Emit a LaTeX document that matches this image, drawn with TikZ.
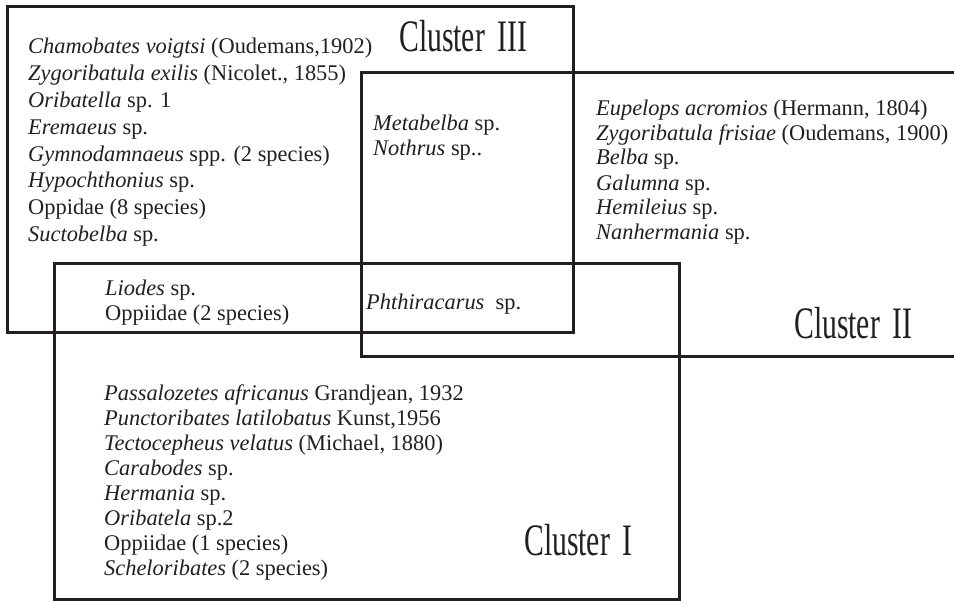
\documentclass[tikz,border=0pt]{standalone}
\usepackage{fontspec}
\setmainfont{Liberation Serif}
\newfontfamily\condensedfont[FakeStretch=0.66]{Liberation Serif}
\definecolor{ink}{HTML}{231F20}
\newcommand{\clustergap}{\hspace{13pt}}
\begin{document}
\begin{tikzpicture}[x=1pt,y=-1pt,
  box/.style={draw=ink,line width=3pt},
  species/.style={anchor=base west,inner sep=0pt,text=ink,font=\fontsize{22.4}{25}\selectfont},
  specieswide/.style={species,font=\fontsize{22.4}{26.8}\selectfont},
  clusterlabel/.style={anchor=base west,inner sep=0pt,text=ink,font=\condensedfont\fontsize{45}{45}\selectfont}]
\useasboundingbox[fill=white] (0,0) rectangle (954,602);
% boxes
\draw[box] (7,7) rectangle (573,332);
\draw[box] (956,73) -- (361,73) -- (361,356) -- (956,356);
\draw[box] (54,263) rectangle (679,599);
% Cluster III
\node[specieswide] (c3list) at (28,54) {\begin{tabular}[t]{@{}l@{}}
\textit{Chamobates voigtsi} (Oudemans,1902)\\
\textit{Zygoribatula exilis} (Nicolet., 1855)\\
\textit{Oribatella} sp. 1\\
\textit{Eremaeus} sp.\\
\textit{Gymnodamnaeus} spp. (2 species)\\
\textit{Hypochthonius} sp.\\
Oppidae (8 species)\\
\textit{Suctobelba} sp.
\end{tabular}};
\node[clusterlabel] (c3) at (399,52) {Cluster\clustergap III};
% III and II
\node[species] (c23) at (373,130) {\begin{tabular}[t]{@{}l@{}}
\textit{Metabelba} sp.\\
\textit{Nothrus} sp..
\end{tabular}};
% Cluster II
\node[species] (c2list) at (596,115) {\begin{tabular}[t]{@{}l@{}}
\textit{Eupelops acromios} (Hermann, 1804)\\
\textit{Zygoribatula frisiae} (Oudemans, 1900)\\
\textit{Belba} sp.\\
\textit{Galumna} sp.\\
\textit{Hemileius} sp.\\
\textit{Nanhermania} sp.
\end{tabular}};
\node[clusterlabel] (c2) at (794,338) {Cluster\clustergap II};
% III and I
\node[species] (c13) at (105,295) {\begin{tabular}[t]{@{}l@{}}
\textit{Liodes} sp.\\
Oppiidae (2 species)
\end{tabular}};
% all three
\node[species] (c123) at (366,309) {\textit{Phthiracarus}\ \ sp.};
% Cluster I
\node[species] (c1list) at (104,400) {\begin{tabular}[t]{@{}l@{}}
\textit{Passalozetes africanus} Grandjean, 1932\\
\textit{Punctoribates latilobatus} Kunst,1956\\
\textit{Tectocepheus velatus} (Michael, 1880)\\
\textit{Carabodes} sp.\\
\textit{Hermania} sp.\\
\textit{Oribatela} sp.2\\
Oppiidae (1 species)\\
\textit{Scheloribates} (2 species)
\end{tabular}};
\node[clusterlabel] (c1) at (524,555) {Cluster\clustergap I};
\end{tikzpicture}
\end{document}
